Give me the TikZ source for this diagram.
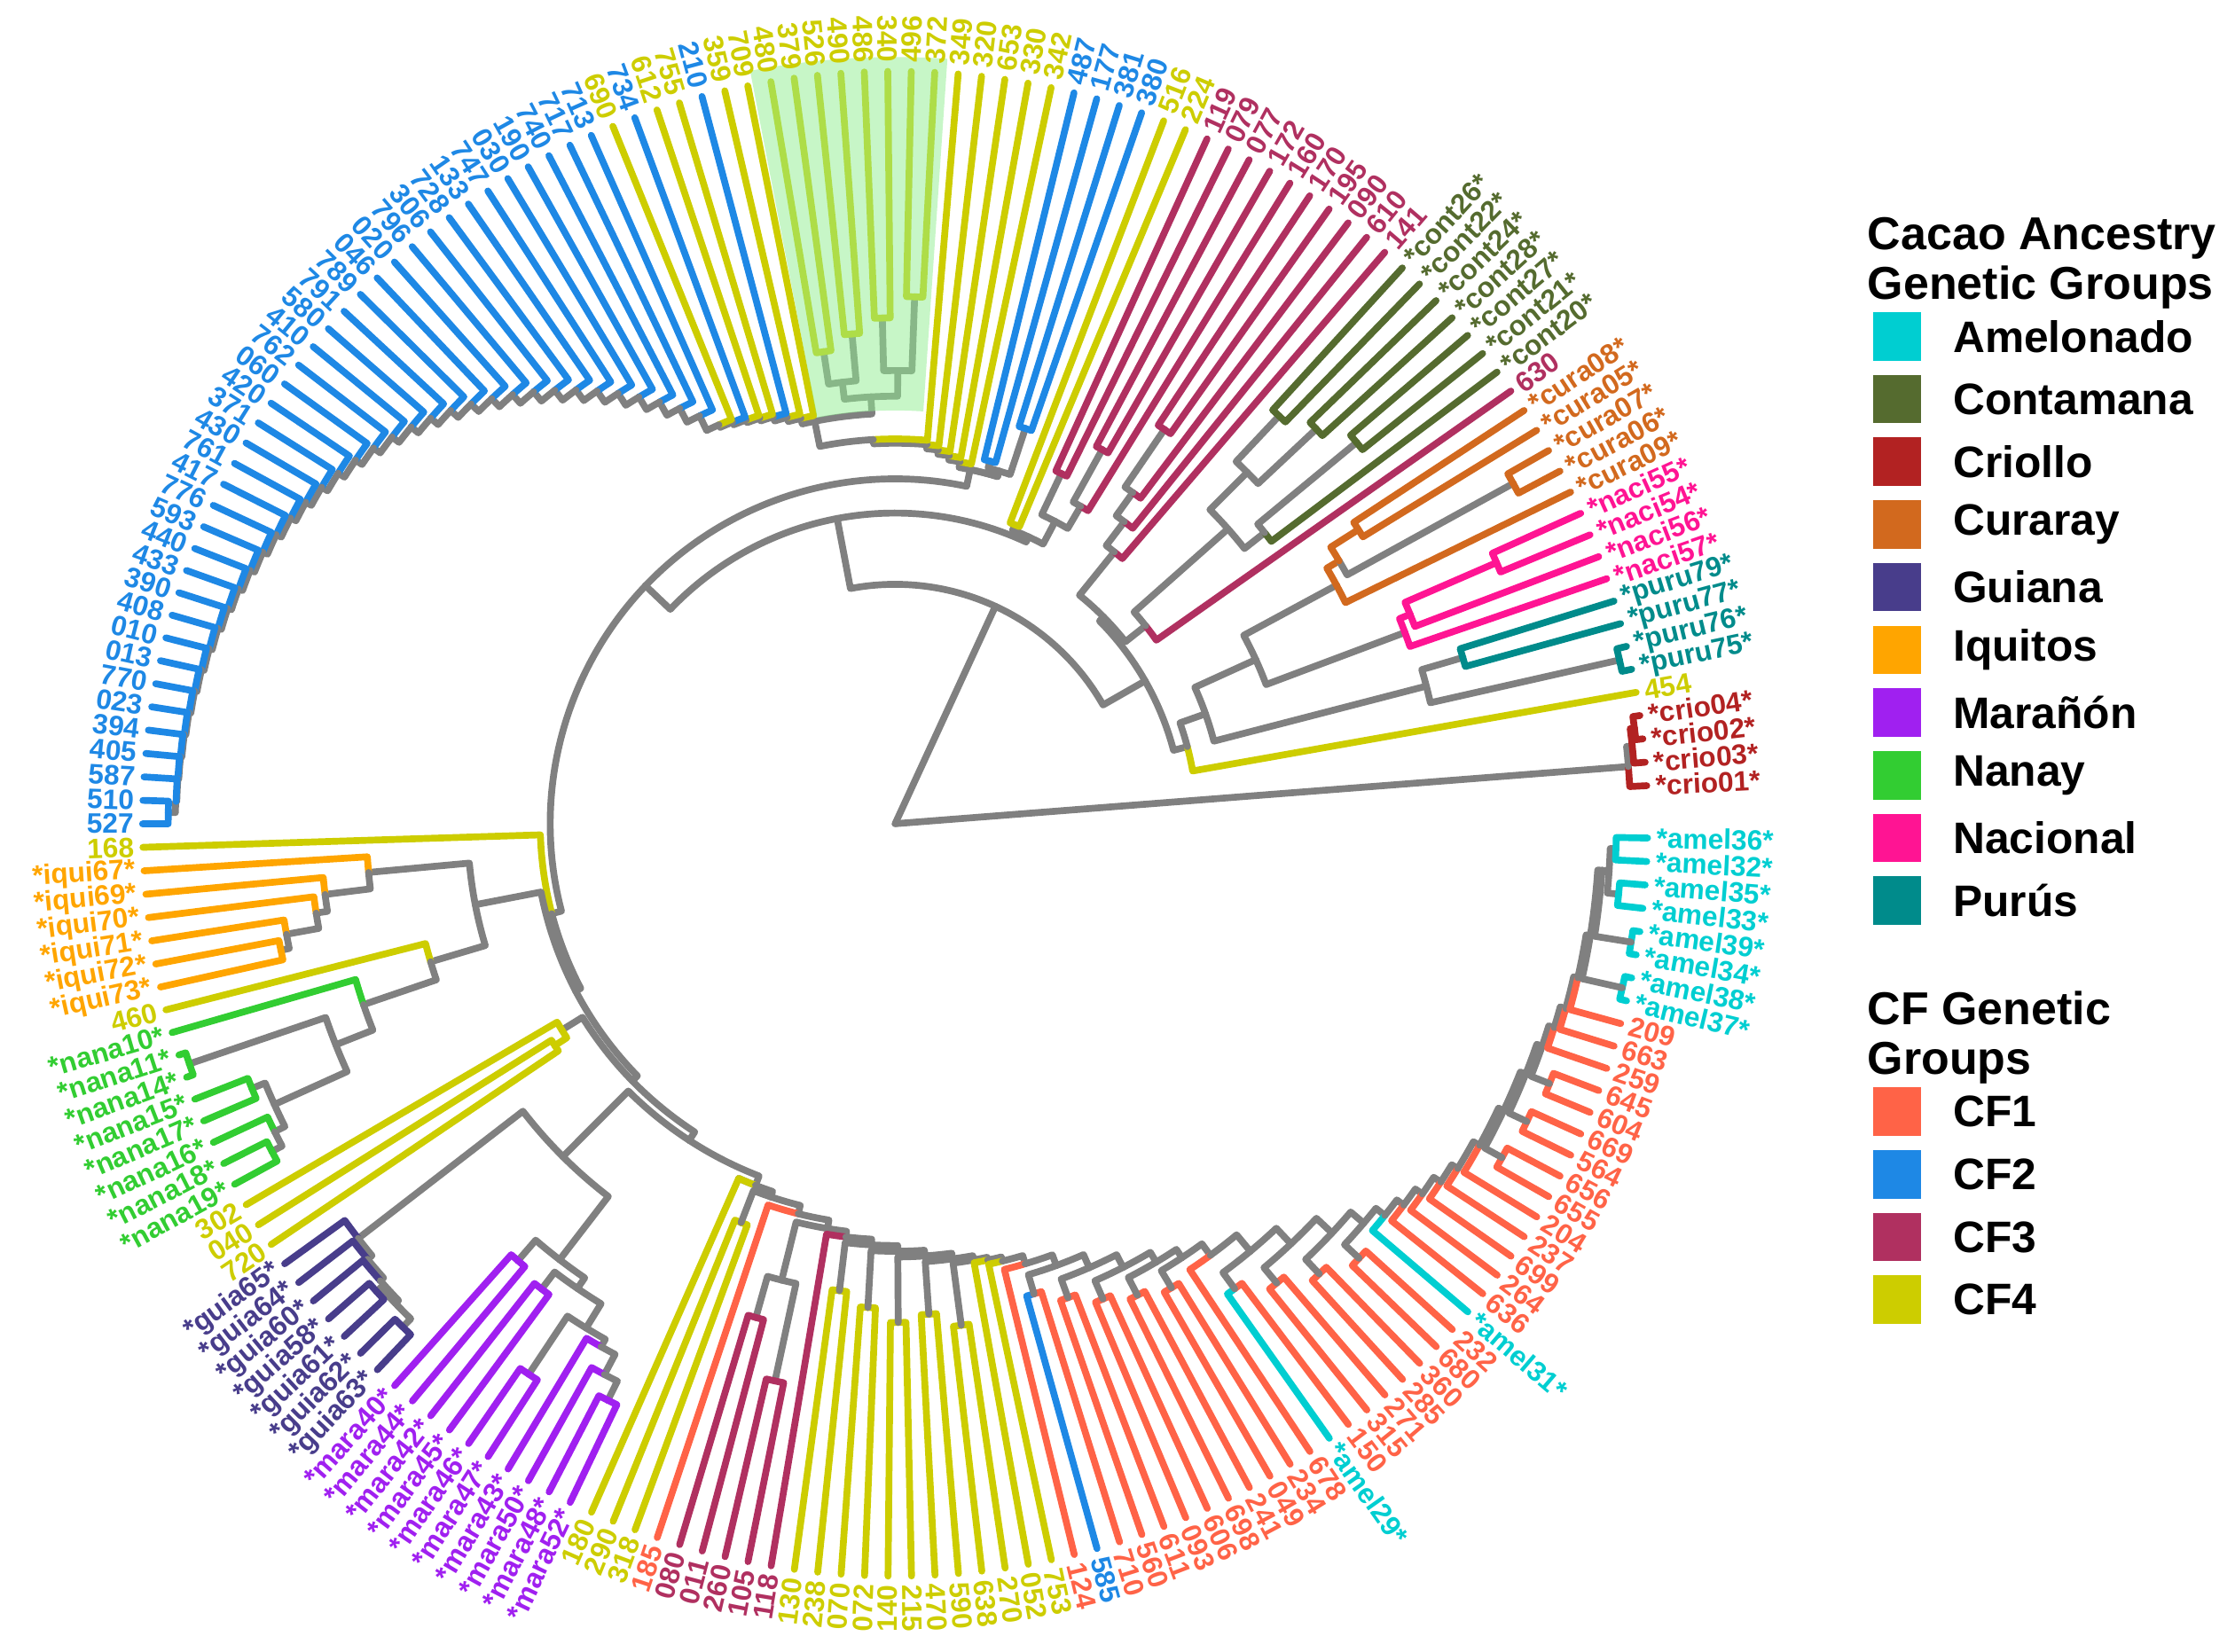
\documentclass[tikz,border=0pt]{standalone}
\usepackage{fontspec}
\setmainfont{Liberation Sans}
\usepackage{tikz}
\definecolor{amel}{RGB}{0,206,209}
\definecolor{cont}{RGB}{85,107,47}
\definecolor{crio}{RGB}{178,34,34}
\definecolor{cura}{RGB}{210,105,30}
\definecolor{guia}{RGB}{72,61,139}
\definecolor{iqui}{RGB}{255,165,0}
\definecolor{mara}{RGB}{160,32,240}
\definecolor{nana}{RGB}{50,205,50}
\definecolor{naci}{RGB}{255,20,147}
\definecolor{puru}{RGB}{0,139,139}
\definecolor{cfa}{RGB}{255,99,71}
\definecolor{cfb}{RGB}{30,136,229}
\definecolor{cfc}{RGB}{176,48,96}
\definecolor{cfd}{RGB}{205,205,0}
\definecolor{gr}{RGB}{128,128,128}
\definecolor{hlgreen}{RGB}{144,238,144}
\tikzstyle{brn}=[line width=3.4pt, line cap=round, line join=round]
\tikzstyle{leaf}=[font=\fontsize{14}{16}\selectfont\bfseries, inner sep=0pt]
\tikzstyle{legt}=[font=\fontsize{23}{25}\selectfont\bfseries, align=left, inner sep=0pt, anchor=north west]
\tikzstyle{legl}=[font=\fontsize{22}{24}\selectfont\bfseries, inner sep=0pt, anchor=west]
\tikzstyle{legk}=[minimum size=0.85cm, inner sep=0pt]
\tikzstyle{hl}=[fill=hlgreen, fill opacity=0.5]

\begin{document}
\begin{tikzpicture}[x=0.025cm, y=0.025cm]
\useasboundingbox (-628,-581) rectangle (940,578);
%
\coordinate (root) at (0,0);
\draw[brn, draw=gr] (root) -- (4.46:516);
\draw[brn, draw=gr] (root) -- (65.25:168);
%
% branches: child index / child radius / parent index / parent radius / colour
\foreach \na/\nr/\pa/\pr/\nc in {
  1/528/1.875/516/crio, 2.75/520/1.875/516/gr, 2/528/2.75/520/crio,
  3.5/523/2.75/520/crio, 3/528/3.5/523/crio, 4/528/3.5/523/crio,
  16.0/202/35.85/168/gr, 55.7/218/35.85/168/gr,
  7.64/212/16.0/202/gr, 24.4/206/16.0/202/gr,
  5/528/7.64/212/cfd, 10.28/231/7.64/212/gr,
  7.5/385/10.28/231/gr, 13.06/278/10.28/231/gr,
  8.5/415/7.5/385/gr, 6.5/521/7.5/385/gr,
  9/528/8.5/415/puru, 8/528/8.5/415/puru, 7/528/6.5/521/puru, 6/528/6.5/521/puru,
  10.875/382/13.06/278/gr, 15.25/352/13.06/278/gr,
  10/528/10.875/382/naci, 11.75/390/10.875/382/naci, 11/528/11.75/390/naci,
  12.5/460/11.75/390/naci, 12/528/12.5/460/naci, 13/528/12.5/460/naci,
  14/528/15.25/352/cura, 16.5/362/15.25/352/cura, 15.5/495/16.5/362/gr,
  17.5/385/16.5/362/cura, 15/528/15.5/495/cura, 16/528/15.5/495/cura,
  17/528/17.5/385/cura, 18/528/17.5/385/cura,
  20.8/224/24.4/206/gr, 27.95/245/24.4/206/gr,
  19/528/20.8/224/cfc, 22.6/312/20.8/224/gr,
  20.75/330/22.6/312/gr, 24.5/349/22.6/312/gr,
  20/528/20.75/330/cont, 21.5/420/20.75/330/gr,
  21/528/21.5/420/cont, 22/528/21.5/420/cont,
  23.5/405/24.5/349/gr, 25.5/393/24.5/349/gr,
  23/528/23.5/405/cont, 24/528/23.5/405/cont,
  25/528/25.5/393/cont, 26/528/25.5/393/cont,
  27/528/27.95/245/cfc, 28.9/266/27.95/245/gr,
  28/528/28.9/266/cfc, 29.75/286/28.9/266/gr,
  29/528/29.75/286/cfc, 30.5/335/29.75/286/gr,
  30/528/30.5/335/cfc, 31/528/30.5/335/cfc,
  35.75/222/55.7/218/gr, 75.6/242/55.7/218/gr,
  34.1/240/35.75/222/gr, 37.5/226/35.75/222/gr,
  37/528/37.5/226/cfd, 38/528/37.5/226/cfd,
  32.75/258/34.1/240/gr, 35.5/272/34.1/240/gr,
  32/528/32.75/258/cfc, 33.5/300/32.75/258/gr,
  33/528/33.5/300/cfc, 34/528/33.5/300/cfc,
  35/528/35.5/272/cfc, 36/528/35.5/272/cfc,
  43/254/75.6/242/gr, 108.2/249/75.6/242/gr,
  39.5/292/40.5/258/gr, 41.5/263/40.5/258/gr,
  39/528/39.5/292/cfb, 40/528/39.5/292/cfb, 41/528/41.5/263/cfb, 42/528/41.5/263/cfb,
  49.5/318/51.5/300/gr, 53.5/312/51.5/300/gr,
  48.5/370/49.5/318/gr, 50.5/355/49.5/318/gr,
  52.5/345/53.5/312/gr, 54.5/335/53.5/312/gr,
  48/528/48.5/370/cfd, 49/528/48.5/370/cfd, 50/528/50.5/355/cfd, 51/528/50.5/355/cfd,
  52/528/52.5/345/cfd, 53/528/52.5/345/cfd, 54/528/54.5/335/cfd, 55/528/54.5/335/cfd,
  99.5/510/99/505/gr, 99/528/99.5/510/cfb, 100/528/99.5/510/cfb,
  101/528/108.2/249/cfd, 115.45/253/108.2/249/gr,
  106.1/300/115.45/253/gr, 124.8/258/115.45/253/gr,
  102.95/371/106.1/300/gr, 109.25/340/106.1/300/gr,
  102/528/102.95/371/iqui, 103.95/403/102.95/371/gr,
  103/528/103.95/403/iqui, 104.9/411/103.95/403/gr,
  104/528/104.9/411/iqui, 105.75/434/104.9/411/gr,
  105/528/105.75/434/iqui, 106.5/440/105.75/434/gr,
  106/528/106.5/440/iqui, 107/528/106.5/440/iqui,
  108/528/109.25/340/cfd, 110.5/394/109.25/340/gr,
  109/528/110.5/394/nana, 112.05/422/110.5/394/gr,
  110.5/523/112.05/422/gr, 110/528/110.5/523/nana, 111/528/110.5/523/nana,
  113.6/478/112.05/422/gr, 112.5/488/113.6/478/gr, 114.75/486/113.6/478/gr,
  112/528/112.5/488/nana, 113/528/112.5/488/nana,
  114/528/114.75/486/nana, 115.5/494/114.75/486/gr,
  115/528/115.5/494/nana, 116/528/115.5/494/nana,
  117.75/275/124.8/258/gr, 131.84/265/124.8/258/gr,
  117/528/117.75/275/cfd, 118.5/285/117.75/275/cfd,
  118/528/118.5/285/cfd, 119/528/118.5/285/cfd,
  125.18/330/131.84/265/gr, 138.5/272/131.84/265/gr,
  121.06/476/125.18/330/gr, 129.3/386/125.18/330/gr,
  120/528/121.06/476/guia, 122.1/480/121.06/476/gr,
  121/528/122.1/480/guia, 123.25/483/122.1/480/gr,
  122/528/123.25/483/guia, 124.5/486/123.25/483/gr,
  123.5/490/124.5/486/gr, 125.5/494/124.5/486/gr,
  123/528/123.5/490/guia, 124/528/123.5/490/guia,
  125/528/125.5/494/guia, 126/528/125.5/494/guia,
  127.5/405/129.3/386/gr, 131.1/395/129.3/386/gr,
  127/528/127.5/405/mara, 128/528/127.5/405/mara,
  129.5/410/131.1/395/gr, 132.7/415/131.1/395/gr,
  129/528/129.5/410/mara, 130/528/129.5/410/mara,
  131.5/464/132.7/415/gr, 133.9/421/132.7/415/gr,
  131/528/131.5/464/mara, 132/528/131.5/464/mara,
  133/528/133.9/421/mara, 134.75/437/133.9/421/gr,
  134/528/134.75/437/mara, 135.5/452/134.75/437/gr,
  135/528/135.5/452/mara, 136/528/135.5/452/mara,
  138/528/138.5/300/cfd, 139/528/138.5/300/cfd,
  141.5/360/142.5/330/gr, 143.5/400/142.5/330/gr,
  141/528/141.5/360/cfc, 142/528/141.5/360/cfc,
  143/528/143.5/400/cfc, 144/528/143.5/400/cfc,
  146/528/146.5/330/cfd, 147/528/146.5/330/cfd,
  148/528/148.5/340/cfd, 149/528/148.5/340/cfd,
  150/528/150.5/350/cfd, 151/528/150.5/350/cfd,
  152/528/152.5/345/cfd, 153/528/152.5/345/cfd,
  154/528/154.5/355/cfd, 155/528/154.5/355/cfd,
  159/528/159.5/344/cfb, 160/528/159.5/344/cfa,
  161/528/161.5/354/cfa, 162/528/161.5/354/cfa,
  163/528/163.5/364/cfa, 164/528/163.5/364/cfa,
  165/528/165.5/372/cfa, 166/528/165.5/372/cfa,
  167/528/167.5/379/cfa, 168/528/167.5/379/cfa,
  170/528/170.5/404/amel, 171/528/170.5/404/cfa,
  172/528/172.5/419/cfa, 173/528/172.5/419/cfa,
  174/528/174.5/434/cfa, 175/528/174.5/434/cfa,
  176/528/176.5/446/cfa, 177/528/176.5/446/cfa,
  184/528/184.5/486/cfa, 185/528/184.5/486/cfa,
  186/528/186.5/490/cfa, 187/528/186.5/490/cfa,
  188/528/188.5/494/cfa, 189/528/188.5/494/cfa,
  193/528/193.5/523/amel, 194/528/193.5/523/amel,
  195/528/195.5/523/amel, 196/528/195.5/523/amel,
  198.5/502/198.5/497/gr,
  197.5/510/198.5/502/gr, 199.5/506/198.5/502/gr,
  197/528/197.5/510/amel, 198/528/197.5/510/amel,
  199/528/199.5/506/amel, 200/528/199.5/506/amel}{
  \pgfmathsetmacro\ta{1.11+1.789*\na}
  \pgfmathsetmacro\tp{1.11+1.789*\pa}
  \draw[brn, draw=\nc] (\tp:\pr) arc[start angle=\tp, end angle=\ta, radius=\pr] -- (\ta:\nr);
}
%
% ladders: unit / next node / unit radius / node radius / previous node radius / colour
\foreach \ua/\ub/\uh/\ur/\up/\uc in {
  40.5/43/258/254/254/gr, 43/44/528/258/254/cfd, 44/45/528/261/258/cfd,
  45/46/528/264/261/cfd, 46/47/528/267/264/cfd, 47/51.5/528/270/267/cfd,
  51.5/56/300/288/270/gr, 56/57/528/292/288/cfd, 57/58/528/295/292/cfd,
  58/59/528/298/295/cfb, 59/60/528/300/298/cfd, 60/61/528/302/300/cfd,
  61/62/528/304/302/cfb, 62/63/528/306/304/cfd,
  137/138.5/528/272/272/cfd, 138.5/140/300/276/272/gr, 140/142.5/528/282/276/cfa,
  142.5/145/330/288/282/gr, 145/146.5/528/292/288/cfc, 146.5/148.5/330/296/292/gr,
  148.5/150.5/340/300/296/gr, 150.5/152.5/350/304/300/gr, 152.5/154.5/345/308/304/gr,
  154.5/156/355/311/308/gr, 156/157/528/313/311/cfd, 157/158/528/316/313/cfd,
  158/159.5/528/322/316/cfa, 159.5/161.5/344/330/322/gr, 161.5/163.5/354/340/330/gr,
  163.5/165.5/364/350/340/gr, 165.5/167.5/372/358/350/gr, 167.5/169/379/365/358/gr,
  169/170.5/528/375/365/cfa, 170.5/172.5/404/390/375/gr, 172.5/174.5/419/405/390/gr,
  174.5/176.5/434/420/405/gr, 176.5/178/446/432/420/gr, 178/179/528/440/432/amel,
  179/180/528/446/440/cfa, 180/181/528/452/446/cfa, 181/182/528/458/452/cfa,
  182/183/528/463/458/cfa, 183/184.5/528/468/463/cfa, 184.5/186.5/486/472/468/gr,
  186.5/188.5/490/476/472/gr, 188.5/190/494/480/476/gr, 190/191/528/484/480/cfa,
  191/192/528/488/484/cfa, 192/193.5/528/491/488/cfa, 193.5/195.5/523/494/491/gr,
  195.5/198.5/523/497/494/gr}{
  \pgfmathsetmacro\tu{1.11+1.789*\ua}
  \pgfmathsetmacro\tn{1.11+1.789*\ub}
  \draw[brn, draw=gr] (\tu:\up) arc[start angle=\tu, end angle=\tn, radius=\up] -- (\tn:\ur);
  \draw[brn, draw=\uc] (\tn:\ur) arc[start angle=\tn, end angle=\tu, radius=\ur] -- (\tu:\uh);
}
\foreach \k in {63,...,98}{
  \pgfmathsetmacro\tu{1.11+1.789*\k}
  \pgfmathsetmacro\tn{1.11+1.789*(\k+1)}
  \pgfmathsetmacro\ur{505-199*((100-\k)/38)^2.2}
  \pgfmathsetmacro\up{505-199*((101-\k)/38)^2.2}
  \draw[brn, draw=gr] (\tu:\up) arc[start angle=\tu, end angle=\tn, radius=\up] -- (\tn:\ur);
  \draw[brn, draw=cfb] (\tn:\ur) arc[start angle=\tn, end angle=\tu, radius=\ur] -- (\tu:528);
}
%
\fill[hl] (86.09:290) arc[start angle=86.09, end angle=100.9, radius=290]
  -- (100.9:538) arc[start angle=100.9, end angle=86.09, radius=538] -- cycle;
%
% tip labels
\foreach \ti/\tx/\tc in {
  1/*crio01*/crio, 2/*crio03*/crio, 3/*crio02*/crio, 4/*crio04*/crio, 5/454/cfd,
  6/*puru75*/puru, 7/*puru76*/puru, 8/*puru77*/puru, 9/*puru79*/puru,
  10/*naci57*/naci, 11/*naci56*/naci, 12/*naci54*/naci, 13/*naci55*/naci,
  14/*cura09*/cura, 15/*cura06*/cura, 16/*cura07*/cura, 17/*cura05*/cura, 18/*cura08*/cura,
  19/630/cfc, 20/*cont20*/cont, 21/*cont21*/cont, 22/*cont27*/cont, 23/*cont28*/cont,
  24/*cont24*/cont, 25/*cont22*/cont, 26/*cont26*/cont,
  27/141/cfc, 28/610/cfc, 29/090/cfc, 30/195/cfc, 31/170/cfc, 32/160/cfc, 33/172/cfc,
  34/077/cfc, 35/079/cfc, 36/119/cfc, 37/224/cfd, 38/516/cfd,
  39/380/cfb, 40/381/cfb, 41/177/cfb, 42/487/cfb,
  43/342/cfd, 44/330/cfd, 45/653/cfd, 46/320/cfd, 47/349/cfd, 48/372/cfd, 49/496/cfd,
  50/340/cfd, 51/486/cfd, 52/490/cfd, 53/526/cfd, 54/379/cfd, 55/480/cfd, 56/709/cfd,
  57/359/cfd, 58/210/cfb, 59/755/cfd, 60/612/cfd, 61/734/cfb, 62/690/cfd,
  63/713/cfb, 64/717/cfb, 65/740/cfb, 66/190/cfb, 67/030/cfb, 68/747/cfb, 69/133/cfb,
  70/728/cfb, 71/306/cfb, 72/796/cfb, 73/020/cfb, 74/046/cfb, 75/789/cfb, 76/791/cfb,
  77/580/cfb, 78/410/cfb, 79/762/cfb, 80/060/cfb, 81/420/cfb, 82/371/cfb, 83/430/cfb,
  84/761/cfb, 85/417/cfb, 86/776/cfb, 87/593/cfb, 88/440/cfb, 89/433/cfb, 90/390/cfb,
  91/408/cfb, 92/010/cfb, 93/013/cfb, 94/770/cfb, 95/023/cfb, 96/394/cfb, 97/405/cfb,
  98/587/cfb, 99/510/cfb, 100/527/cfb, 101/168/cfd,
  102/*iqui67*/iqui, 103/*iqui69*/iqui, 104/*iqui70*/iqui, 105/*iqui71*/iqui,
  106/*iqui72*/iqui, 107/*iqui73*/iqui, 108/460/cfd,
  109/*nana10*/nana, 110/*nana11*/nana, 111/*nana14*/nana, 112/*nana15*/nana,
  113/*nana17*/nana, 114/*nana16*/nana, 115/*nana18*/nana, 116/*nana19*/nana,
  117/302/cfd, 118/040/cfd, 119/720/cfd,
  120/*guia65*/guia, 121/*guia64*/guia, 122/*guia60*/guia, 123/*guia58*/guia,
  124/*guia61*/guia, 125/*guia62*/guia, 126/*guia63*/guia,
  127/*mara40*/mara, 128/*mara44*/mara, 129/*mara42*/mara, 130/*mara45*/mara,
  131/*mara46*/mara, 132/*mara47*/mara, 133/*mara43*/mara, 134/*mara50*/mara,
  135/*mara48*/mara, 136/*mara52*/mara,
  137/180/cfd, 138/290/cfd, 139/318/cfd, 140/185/cfa,
  141/080/cfc, 142/011/cfc, 143/260/cfc, 144/105/cfc, 145/118/cfc,
  146/130/cfd, 147/238/cfd, 148/070/cfd, 149/072/cfd, 150/140/cfd, 151/215/cfd,
  152/470/cfd, 153/590/cfd, 154/638/cfd, 155/270/cfd, 156/052/cfd, 157/753/cfd,
  158/124/cfa, 159/585/cfb, 160/710/cfa, 161/560/cfa, 162/611/cfa, 163/093/cfa,
  164/606/cfa, 165/698/cfa, 166/241/cfa, 167/049/cfa, 168/234/cfa, 169/678/cfa,
  170/*amel29*/amel, 171/150/cfa, 172/315/cfa, 173/271/cfa, 174/285/cfa, 175/360/cfa,
  176/680/cfa, 177/232/cfa, 178/*amel31*/amel,
  179/636/cfa, 180/264/cfa, 181/699/cfa, 182/237/cfa, 183/204/cfa, 184/655/cfa,
  185/656/cfa, 186/564/cfa, 187/669/cfa, 188/604/cfa, 189/645/cfa, 190/259/cfa,
  191/663/cfa, 192/209/cfa,
  193/*amel37*/amel, 194/*amel38*/amel, 195/*amel34*/amel, 196/*amel39*/amel,
  197/*amel33*/amel, 198/*amel35*/amel, 199/*amel32*/amel, 200/*amel36*/amel}{
  \pgfmathsetmacro\lth{1.11+1.789*\ti}
  \pgfmathtruncatemacro\lft{(\lth>90 && \lth<270) ? 1 : 0}
  \ifnum\lft=1
    \node[leaf, text=\tc, anchor=east, rotate=\lth-180] (t\ti) at (\lth:534) {\tx};
  \else
    \node[leaf, text=\tc, anchor=west, rotate=\lth] (t\ti) at (\lth:534) {\tx};
  \fi
}
%
% legend
\node[legt] (anc) at (682,426) {Cacao Ancestry\\Genetic Groups};
\foreach \lg/\lc [count=\j] in {Amelonado/amel, Contamana/cont, Criollo/crio, Curaray/cura,
    Guiana/guia, Iquitos/iqui, Marañón/mara, Nanay/nana, Nacional/naci, Purús/puru}{
  \node[legk, fill=\lc] (ka\j) at (703,{342-44*(\j-1)}) {};
  \node[legl] (la\j) at (742,{342-44*(\j-1)}) {\lg};
}
\node[legt] (cft) at (682,-117) {CF Genetic\\Groups};
\foreach \lg/\lc [count=\j] in {CF1/cfa, CF2/cfb, CF3/cfc, CF4/cfd}{
  \node[legk, fill=\lc] (kb\j) at (703,{-202-44*(\j-1)}) {};
  \node[legl] (lb\j) at (742,{-202-44*(\j-1)}) {\lg};
}
\end{tikzpicture}
\end{document}
